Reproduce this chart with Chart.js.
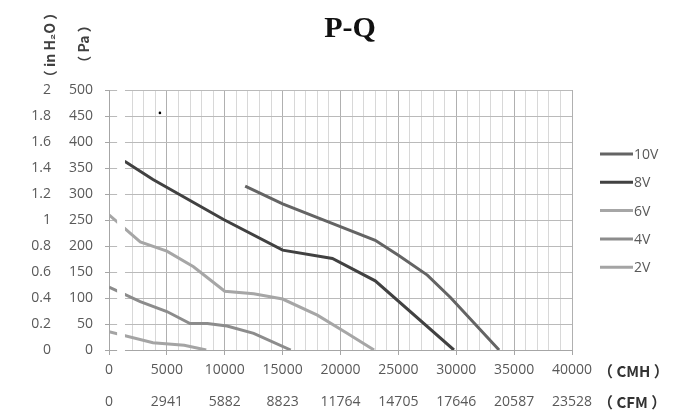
<!DOCTYPE html>
<html>
<head>
<meta charset="utf-8">
<style>
  body { margin: 0; background: #fff; }
  #wrap { width: 700px; height: 418px; }
</style>
</head>
<body>
<div id="wrap">
  <canvas id="pq-chart" width="700" height="418"></canvas>
</div>

<script src="https://cdn.jsdelivr.net/npm/chart.js"></script>

<script>
  // flow (CMH) / static pressure (Pa)
  const flow10V = [11764, 15000, 19000, 23000, 25000, 27500, 29500, 33700]
  const pres10V = [315, 281, 246, 211, 182, 144, 101, 0]
  const flow8V = [1350, 3800, 9900, 15000, 19300, 23000, 29800]
  const pres8V = [363, 328, 251, 192, 176, 133, 0]
  const flow6V = [0, 2700, 5000, 7300, 10000, 12500, 15000, 18000, 20500, 22900]
  const pres6V = [260, 208, 190, 160, 113, 108, 98, 67, 33, 0]
  const flow4V = [0, 2700, 5000, 7000, 8500, 10200, 12500, 15700]
  const pres4V = [121, 93, 74, 51, 51, 46, 32, 0]
  const flow2V = [0, 3800, 6500, 8400]
  const pres2V = [35, 14, 9, 0]

  const seriesNames = ['10V', '8V', '6V', '4V', '2V']
  const seriesColors = ['#646464', '#414141', '#a6a6a6', '#8c8c8c', '#a4a4a4']

  // the little stray dot in the original picture
  const strayFlow = [4400]
  const strayPres = [456]

  const cmhTicks = [0, 5000, 10000, 15000, 20000, 25000, 30000, 35000, 40000]
  const cfmLabels = ['0', '2941', '5882', '8823', '11764', '14705', '17646', '20587', '23528']
  const paTicks = [0, 50, 100, 150, 200, 250, 300, 350, 400, 450, 500]
  const inH2OLabels = ['0', '0.2', '0.4', '0.6', '0.8', '1', '1.2', '1.4', '1.6', '1.8', '2']

  const TXT = '#595959'
  const tickFont = { family: '"Open Sans", sans-serif', size: 14 }

  const toPoints = (xs, ys) => xs.map((x, i) => ({ x: x, y: ys[i] }))
  const curves = [
    [flow10V, pres10V], [flow8V, pres8V], [flow6V, pres6V], [flow4V, pres4V], [flow2V, pres2V]
  ]

  const datasets = curves.map((c, i) => ({
    label: seriesNames[i],
    data: toPoints(c[0], c[1]),
    borderColor: seriesColors[i],
    backgroundColor: seriesColors[i],
    borderWidth: 3,
    pointRadius: 0,
    showLine: true,
    tension: 0
  }))
  datasets.push({
    label: '',
    data: toPoints(strayFlow, strayPres),
    backgroundColor: '#000',
    borderColor: '#000',
    pointRadius: 1.3,
    borderWidth: 0,
    showLine: false
  })

  // the original has a thin white band cut through the plot near x=0
  const gapMask = {
    id: 'gapMask',
    afterDatasetsDraw(chart) {
      const { ctx, chartArea, scales } = chart
      const x0 = scales.x.getPixelForValue(700)
      const x1 = scales.x.getPixelForValue(1380)
      ctx.save()
      ctx.fillStyle = '#fff'
      ctx.fillRect(x0, chartArea.top - 2, x1 - x0, chartArea.bottom - chartArea.top + 4)
      ctx.restore()
    }
  }

  // legend, unit labels and rotated axis titles
  const extras = {
    id: 'extras',
    afterDraw(chart) {
      const { ctx, chartArea: area } = chart
      ctx.save()

      ctx.font = '14px "Open Sans", sans-serif'
      ctx.textAlign = 'left'
      ctx.textBaseline = 'middle'
      chart.data.datasets.forEach((ds, i) => {
        if (!ds.label) return
        const y = area.top + 64 + i * 28.3
        ctx.strokeStyle = ds.borderColor
        ctx.lineWidth = 3
        ctx.beginPath()
        ctx.moveTo(area.right + 28, y)
        ctx.lineTo(area.right + 61, y)
        ctx.stroke()
        ctx.fillStyle = TXT
        ctx.fillText(ds.label, area.right + 62, y + 1)
      })

      ctx.fillStyle = '#333'
      ctx.font = 'bold 15px "Noto Sans CJK SC", sans-serif'
      ctx.fillText('（ CMH ）', area.right + 26, area.bottom + 21)
      ctx.fillText('（ CFM ）', area.right + 26, area.bottom + 52)

      ctx.font = 'bold 14px "Noto Sans CJK SC", sans-serif'
      ctx.textAlign = 'center'
      ctx.fillStyle = '#404040'
      ctx.translate(50, 45)
      ctx.rotate(-Math.PI / 2)
      ctx.fillText('（ in H₂O ）', 0, 0)
      ctx.rotate(Math.PI / 2)
      ctx.translate(34, -1)
      ctx.rotate(-Math.PI / 2)
      ctx.fillText('（ Pa ）', 0, 0)

      ctx.restore()
    }
  }

  const isMajor = v => cmhTicks.includes(v)

  const chart = new Chart(document.getElementById('pq-chart'), {
    type: 'scatter',
    data: { datasets: datasets },
    plugins: [gapMask, extras],
    options: {
      responsive: false,
      animation: false,
      devicePixelRatio: 1,
      layout: { padding: 0 },
      plugins: {
        legend: { display: false },
        tooltip: { enabled: false },
        title: {
          display: true,
          text: 'P-Q',
          color: '#111',
          font: { family: '"Liberation Serif", serif', size: 30, weight: 'bold' },
          padding: { top: 11, bottom: 43 }
        }
      },
      scales: {
        x: {
          type: 'linear',
          position: 'bottom',
          weight: 0,
          min: 0,
          max: 40000,
          afterFit: s => { s.height = 40 },
          grid: {
            color: c => (c.tick && isMajor(c.tick.value)) ? '#b0b0b0' : '#d8d8d8',
            tickColor: c => (c.tick && isMajor(c.tick.value)) ? '#a6a6a6' : 'rgba(0,0,0,0)',
            tickLength: 5
          },
          border: { color: '#a6a6a6' },
          ticks: {
            stepSize: 1000,
            autoSkip: false,
            maxRotation: 0,
            padding: 7,
            color: TXT,
            font: tickFont,
            callback: v => isMajor(v) ? String(v) : ''
          }
        },
        x2: {
          type: 'linear',
          position: 'bottom',
          weight: 1,
          min: 0,
          max: 40000,
          afterFit: s => { s.height = 28 },
          afterBuildTicks: s => { s.ticks = cmhTicks.map(v => ({ value: v })) },
          grid: { display: false, drawTicks: false },
          border: { display: false },
          ticks: {
            autoSkip: false,
            maxRotation: 0,
            padding: 4,
            color: TXT,
            font: tickFont,
            callback: (v, i) => cfmLabels[i]
          }
        },
        y: {
          type: 'linear',
          position: 'left',
          weight: 0,
          min: 0,
          max: 500,
          afterFit: s => { s.width = 54 },
          afterBuildTicks: s => { s.ticks = paTicks.map(v => ({ value: v })) },
          grid: { color: '#bababa', tickColor: '#a6a6a6', tickLength: 4 },
          border: { color: '#a6a6a6' },
          ticks: { padding: 12, color: TXT, font: tickFont, callback: v => String(v) }
        },
        y2: {
          type: 'linear',
          position: 'left',
          weight: 1,
          min: 0,
          max: 500,
          afterFit: s => { s.width = 55 },
          afterBuildTicks: s => { s.ticks = paTicks.map(v => ({ value: v })) },
          grid: { display: false, drawTicks: false },
          border: { display: false },
          ticks: { padding: 4, color: TXT, font: tickFont, callback: (v, i) => inH2OLabels[i] }
        },
        // empty right-hand box that leaves room for the legend column
        yRoom: {
          type: 'linear',
          position: 'right',
          min: 0,
          max: 500,
          afterFit: s => { s.width = 128 },
          grid: { display: false, drawTicks: false },
          border: { display: false },
          ticks: { display: false }
        }
      }
    }
  });
</script>
</body>
</html>
